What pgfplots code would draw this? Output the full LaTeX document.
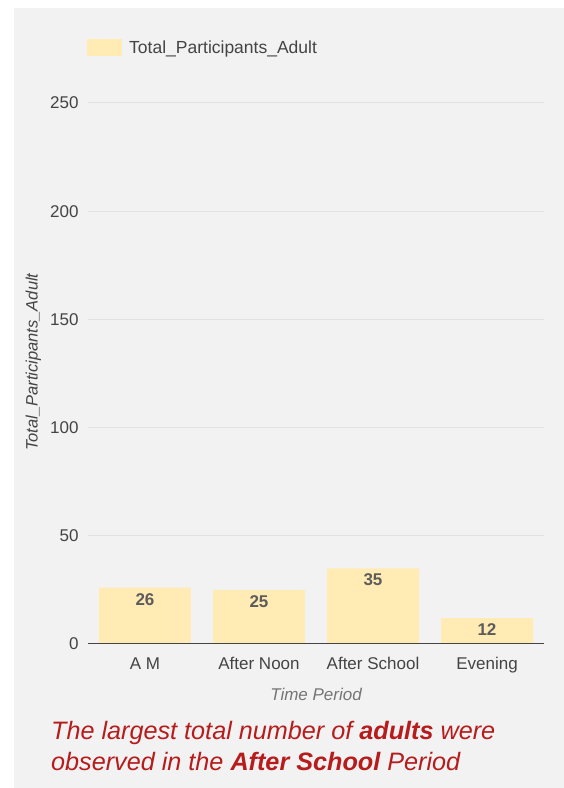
\documentclass[border=0pt]{standalone}
\usepackage{pgfplots}
\pgfplotsset{compat=1.18}
\usepackage{fontspec}
\setmainfont{Liberation Sans}
\definecolor{panel}{HTML}{F2F2F2}
\definecolor{barc}{HTML}{FFEBB3}
\definecolor{gridc}{HTML}{E2E2E2}
\definecolor{tickc}{HTML}{444444}
\definecolor{labc}{HTML}{5C5C5C}
\definecolor{axc}{HTML}{757575}
\definecolor{note}{HTML}{B71C1C}

\begin{document}
\begin{tikzpicture}[x=1pt,y=1pt]
% page and panel
\fill[white] (0,0) rectangle (564,788);
\fill[panel] (14,0) rectangle (564,780);

\begin{axis}[
  at={(88pt,144pt)}, anchor=south west,
  width=456pt, height=541pt, scale only axis,
  /pgf/number format/assume math mode=true,
  xmin=-0.5, xmax=3.5, ymin=0, ymax=250,
  xtick={0,1,2,3},
  xticklabels={A M, After Noon, After School, Evening},
  ytick={0,50,100,150,200,250},
  ymajorgrids, grid style={gridc, line width=1pt},
  axis line style={draw=none},
  major tick length=0pt,
  tick label style={font=\fontsize{17}{20}\selectfont, text=tickc},
  xticklabel style={yshift=-10pt},
  yticklabel style={xshift=-6pt},
  xlabel={\itshape Time Period},
  xlabel style={font=\fontsize{17}{20}\selectfont, text=axc,
    at={(axis description cs:0.5,0)}, anchor=center, yshift=-50pt},
  ylabel={\itshape Total\_Participants\_Adult},
  ylabel style={font=\fontsize{16.5}{19}\selectfont, text=tickc,
    at={(axis description cs:-0.12,0.521)}, anchor=center},
  legend style={at={(axis description cs:0,1)}, anchor=west,
    yshift=55pt, xshift=-4pt, draw=none, fill=none,
    font=\fontsize{17.5}{20}\selectfont, text=tickc},
  legend image code/.code={\fill[barc] (0pt,-8.5pt) rectangle (35pt,8.5pt);},
]
\addplot[ybar, bar width=0.807, fill=barc, draw=none,
  nodes near coords,
  every node near coord/.append style={anchor=north, yshift=-2pt,
    font=\fontsize{17}{20}\selectfont\bfseries, text=labc}]
  coordinates {(0,26) (1,25) (2,35) (3,12)};
\addlegendentry{\hspace{5pt}Total\_Participants\_Adult}
\draw[tickc, line width=1.5pt] (axis cs:-0.5,0) -- (axis cs:3.5,0);
\end{axis}

% headline note beneath the chart
\node[anchor=base west, text=note, inner sep=0pt,
  font=\fontsize{25.2}{29}\selectfont\itshape] at (51,48)
  {The largest total number of \textbf{adults} were};
\node[anchor=base west, text=note, inner sep=0pt,
  font=\fontsize{25.2}{29}\selectfont\itshape] at (51,17)
  {observed in the \textbf{After School} Period};
\end{tikzpicture}
\end{document}
